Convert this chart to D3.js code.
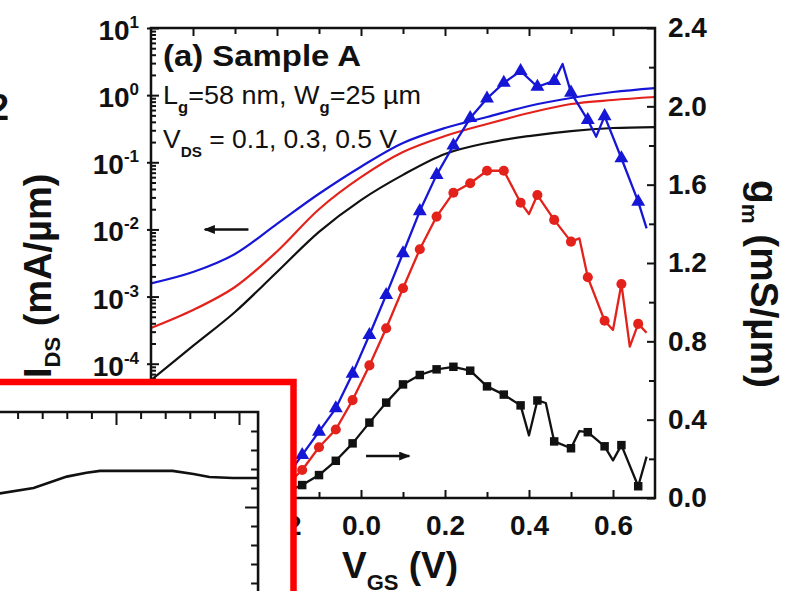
<!DOCTYPE html>
<html>
<head>
<meta charset="utf-8">
<script src="https://cdn.jsdelivr.net/npm/d3@7"></script>
<style>
  body { margin: 0; background: #fff; }
  svg { display: block; }
  text { font-family: "Liberation Sans", Arial, sans-serif; fill: #111; }
</style>
</head>
<body>
<svg id="chart" width="790" height="591"></svg>
<script>
// ---- Transfer characteristics I_DS(V_GS), mA/um, for V_DS = 0.1 / 0.3 / 0.5 V ----
const vgsIV = [-0.5, -0.4, -0.3, -0.2, -0.1, 0.0, 0.1, 0.2, 0.3, 0.4, 0.5, 0.6, 0.7];
const idsVds01 = [5.7e-5, 1.84e-4, 5.9e-4, 2.32e-3, 9.2e-3, 2.74e-2, 6.5e-2, 0.133, 0.194, 0.246, 0.292, 0.324, 0.335];
const idsVds03 = [3.4e-4, 6.3e-4, 1.39e-3, 4.7e-3, 2.0e-2, 6.0e-2, 0.142, 0.246, 0.372, 0.542, 0.738, 0.847, 0.938];
const idsVds05 = [1.57e-3, 2.32e-3, 4.3e-3, 1.21e-2, 3.4e-2, 8.6e-2, 0.194, 0.324, 0.472, 0.689, 0.906, 1.114, 1.276];

// ---- Transconductance g_m (mS/um) ----
const vgsGm01 = [-0.18, -0.14, -0.10, -0.06, -0.02, 0.02, 0.06, 0.10, 0.14, 0.18, 0.22, 0.26, 0.30, 0.34, 0.38, 0.40, 0.42, 0.44, 0.46, 0.50, 0.52, 0.54, 0.58, 0.60, 0.62, 0.66, 0.68];
const gmVds01  = [0.03, 0.066, 0.117, 0.19, 0.279, 0.385, 0.487, 0.58, 0.628, 0.657, 0.67, 0.65, 0.57, 0.528, 0.473, 0.32, 0.498, 0.485, 0.289, 0.254, 0.342, 0.336, 0.264, 0.192, 0.27, 0.06, 0.211];
const vgsGm03 = [-0.18, -0.14, -0.10, -0.06, -0.02, 0.02, 0.06, 0.10, 0.14, 0.18, 0.22, 0.26, 0.30, 0.34, 0.38, 0.40, 0.42, 0.46, 0.50, 0.52, 0.54, 0.58, 0.60, 0.62, 0.64, 0.66, 0.68];
const gmVds03  = [0.06, 0.143, 0.259, 0.35, 0.50, 0.677, 0.867, 1.071, 1.27, 1.437, 1.559, 1.607, 1.671, 1.671, 1.508, 1.45, 1.547, 1.42, 1.309, 1.326, 1.127, 0.905, 0.858, 1.093, 0.773, 0.889, 0.844];
const vgsGm05 = [-0.18, -0.14, -0.10, -0.06, -0.02, 0.02, 0.06, 0.10, 0.14, 0.18, 0.22, 0.26, 0.30, 0.34, 0.38, 0.42, 0.46, 0.48, 0.50, 0.54, 0.56, 0.58, 0.62, 0.66, 0.68];
const gmVds05  = [0.10, 0.22, 0.339, 0.458, 0.635, 0.832, 1.037, 1.25, 1.465, 1.65, 1.80, 1.94, 2.04, 2.12, 2.18, 2.10, 2.13, 2.216, 2.07, 1.93, 1.845, 1.95, 1.735, 1.513, 1.377];

// ---- Axis ticks ----
const xMajor = [-0.4, -0.2, 0.0, 0.2, 0.4, 0.6];
const xMinor = [-0.3, -0.1, 0.1, 0.3, 0.5];
const idsDecades = [1e-6, 1e-5, 1e-4, 1e-3, 1e-2, 1e-1, 1e0, 1e1];
const idsLabelDecades = [1e1, 1e0, 1e-1, 1e-2, 1e-3, 1e-4];
const idsLabelExp = ["1", "0", "-1", "-2", "-3", "-4"];
const gmMajor = [0.0, 0.4, 0.8, 1.2, 1.6, 2.0, 2.4];
const gmMinor = [0.2, 0.6, 1.0, 1.4, 1.8, 2.2];

// ---- Overlaid inset panel (partial view) ----
const insetX = [-0.06, 0.33, 0.60, 0.76, 0.87, 1.46, 1.63, 1.76, 1.95, 2.15];
const insetY = [0.56, 0.60, 0.66, 0.68, 0.69, 0.69, 0.674, 0.658, 0.653, 0.653];
const insetXTicks = [0.2, 0.4, 0.6, 0.8, 1.0, 1.2, 1.4, 1.6, 1.8, 2.0];
const insetYTicks = [0.1, 0.2, 0.3, 0.4, 0.5, 0.6, 0.7, 0.8, 0.9];

const BLUE = "#1616d6", RED = "#e3221c", BLACK = "#111";

const svg = d3.select("#chart");
const L = 151, R = 655, T = 28, B = 498;

const x = d3.scaleLinear().domain([-0.5, 0.7]).range([L, R]);
const yI = d3.scaleLog().domain([1e-6, 1e1]).range([B, T]);
const yG = d3.scaleLinear().domain([0, 2.4]).range([B, T]);

const defs = svg.append("defs");
defs.append("clipPath").attr("id", "plotClip")
  .append("rect").attr("x", L).attr("y", T).attr("width", R - L).attr("height", B - T);
const plot = svg.append("g");

// I-V curves (left axis)
const ivLine = d3.line().x(d => x(d[0])).y(d => yI(d[1])).curve(d3.curveCatmullRom.alpha(0.5));
const ivSeries = [[idsVds01, BLACK], [idsVds03, RED], [idsVds05, BLUE]];
const curves = plot.append("g").attr("clip-path", "url(#plotClip)");
ivSeries.forEach(([vals, col]) => {
  curves.append("path").datum(vgsIV.map((v, i) => [v, vals[i]]))
    .attr("d", ivLine).attr("fill", "none").attr("stroke", col).attr("stroke-width", 2.2);
});

// g_m curves (right axis) with markers every 0.04 V
const gmLine = d3.line().x(d => x(d[0])).y(d => yG(d[1]));
const gmSeries = [
  { v: vgsGm01, g: gmVds01, col: BLACK, shape: d3.symbolSquare, size: 72 },
  { v: vgsGm03, g: gmVds03, col: RED, shape: d3.symbolCircle, size: 80 },
  { v: vgsGm05, g: gmVds05, col: BLUE, shape: d3.symbolTriangle, size: 84 }
];
const onMarkerGrid = v => v > -0.15 && Math.abs((v + 0.14) / 0.04 - Math.round((v + 0.14) / 0.04)) < 1e-6;
gmSeries.forEach(s => {
  const pts = s.v.map((v, i) => [v, s.g[i]]);
  curves.append("path").datum(pts).attr("d", gmLine)
    .attr("fill", "none").attr("stroke", s.col).attr("stroke-width", 2.3).attr("stroke-linejoin", "round");
  curves.selectAll(null).data(pts.filter(p => onMarkerGrid(p[0]))).enter()
    .append("path")
    .attr("d", d3.symbol().type(s.shape).size(s.size))
    .attr("transform", d => `translate(${x(d[0])},${yG(d[1])})`)
    .attr("fill", s.col);
});

// Frame
plot.append("rect").attr("x", L).attr("y", T).attr("width", R - L).attr("height", B - T)
  .attr("fill", "none").attr("stroke", BLACK).attr("stroke-width", 2.5);

function styleAxis(g) {
  g.select(".domain").remove();
  g.selectAll(".tick line").attr("stroke", BLACK).attr("stroke-width", 2);
}

// Bottom axis
plot.append("g").attr("transform", `translate(0,${B})`)
  .call(d3.axisBottom(x).tickValues(xMajor).tickSizeInner(-8).tickSizeOuter(0).tickPadding(17)
    .tickFormat(d => d3.format(".1f")(d).replace("\u2212", "-")))
  .call(styleAxis)
  .selectAll("text").attr("font-size", 28).attr("font-weight", "bold").attr("fill", "#111");
plot.append("g").attr("transform", `translate(0,${B})`)
  .call(d3.axisBottom(x).tickValues(xMinor).tickSizeInner(-6).tickSizeOuter(0).tickFormat(""))
  .call(styleAxis);
// Top axis
plot.append("g").attr("transform", `translate(0,${T})`)
  .call(d3.axisTop(x).tickValues(xMajor).tickSizeInner(-8).tickSizeOuter(0).tickFormat(""))
  .call(styleAxis);
plot.append("g").attr("transform", `translate(0,${T})`)
  .call(d3.axisTop(x).tickValues(xMinor).tickSizeInner(-6).tickSizeOuter(0).tickFormat(""))
  .call(styleAxis);

// Left log axis: decades cross the spine, minor ticks inside
plot.append("g").attr("transform", `translate(${L - 4},0)`)
  .call(d3.axisRight(yI).tickValues(idsDecades).tickSizeInner(12).tickSizeOuter(0).tickFormat(""))
  .call(styleAxis);
const minorLog = [];
idsDecades.slice(0, -1).forEach(d => { for (let k = 2; k <= 9; k++) minorLog.push(d * k); });
plot.append("g").attr("transform", `translate(${L},0)`)
  .call(d3.axisRight(yI).tickValues(minorLog).tickSizeInner(5).tickSizeOuter(0).tickFormat(""))
  .call(styleAxis);
// Decade labels
idsLabelDecades.forEach((d, i) => {
  const t = plot.append("text").attr("x", 139).attr("y", yI(d) + 12)
    .attr("text-anchor", "end").attr("font-weight", "bold").attr("font-size", 28);
  t.append("tspan").text("10");
  t.append("tspan").attr("dy", -12).attr("font-size", 17).text(idsLabelExp[i]);
});

// Right axis (g_m)
plot.append("g").attr("transform", `translate(${R},0)`)
  .call(d3.axisRight(yG).tickValues(gmMajor).tickSizeInner(-8).tickSizeOuter(0).tickPadding(13)
    .tickFormat(d3.format(".1f")))
  .call(styleAxis)
  .selectAll("text").attr("font-size", 28).attr("font-weight", "bold").attr("fill", "#111");
plot.append("g").attr("transform", `translate(${R},0)`)
  .call(d3.axisRight(yG).tickValues(gmMinor).tickSizeInner(-6).tickSizeOuter(0).tickFormat(""))
  .call(styleAxis);

// Axis titles
const yTitle = plot.append("text").attr("transform", "translate(51,378) rotate(-90)")
  .attr("font-weight", "bold").attr("font-size", 38);
yTitle.append("tspan").text("I");
yTitle.append("tspan").attr("dy", 9).attr("font-size", 22).text("DS");
yTitle.append("tspan").attr("dy", -9).text(" (mA/\u00b5m)");

const gTitle = plot.append("text").attr("transform", "translate(751,180) rotate(90)")
  .attr("font-weight", "bold").attr("font-size", 38)
  .attr("textLength", 208).attr("lengthAdjust", "spacingAndGlyphs");
gTitle.append("tspan").text("g");
gTitle.append("tspan").attr("dy", 9).attr("font-size", 22).text("m");
gTitle.append("tspan").attr("dy", -9).text(" (mS/\u00b5m)");

const xTitle = plot.append("text").attr("x", 342).attr("y", 578)
  .attr("font-weight", "bold").attr("font-size", 37);
xTitle.append("tspan").text("V");
xTitle.append("tspan").attr("dy", 12).attr("font-size", 22).text("GS");
xTitle.append("tspan").attr("dy", -12).text(" (V)");

// Annotations inside the plot
plot.append("text").attr("x", 163).attr("y", 66).attr("font-weight", "bold").attr("font-size", 30)
  .attr("textLength", 198).attr("lengthAdjust", "spacingAndGlyphs")
  .text("(a) Sample A");
const l2 = plot.append("text").attr("x", 163).attr("y", 104).attr("font-size", 26)
  .attr("textLength", 258).attr("lengthAdjust", "spacingAndGlyphs");
l2.append("tspan").text("L");
l2.append("tspan").attr("dy", 9).attr("font-size", 16).attr("font-weight", "bold").text("g");
l2.append("tspan").attr("dy", -9).text("=58 nm, W");
l2.append("tspan").attr("dy", 9).attr("font-size", 16).attr("font-weight", "bold").text("g");
l2.append("tspan").attr("dy", -9).text("=25 \u00b5m");
const l3 = plot.append("text").attr("x", 163).attr("y", 148).attr("font-size", 26)
  .attr("textLength", 234).attr("lengthAdjust", "spacingAndGlyphs");
l3.append("tspan").text("V");
l3.append("tspan").attr("dy", 9).attr("font-size", 15).attr("font-weight", "bold").text("DS");
l3.append("tspan").attr("dy", -9).text(" = 0.1, 0.3, 0.5 V");

// Arrows pointing to the axis each curve family belongs to
defs.append("marker").attr("id", "head").attr("viewBox", "0 0 10 8").attr("refX", 9).attr("refY", 4)
  .attr("markerWidth", 13).attr("markerHeight", 9).attr("markerUnits", "userSpaceOnUse").attr("orient", "auto")
  .append("path").attr("d", "M0,0 L10,4 L0,8 Z").attr("fill", BLACK);
const arrowIds = { from: [-0.268, 1e-2], to: [-0.372, 1e-2] };
const arrowGm = { from: [0.012, 0.214], to: [0.115, 0.214] };
plot.append("line").attr("x1", x(arrowIds.from[0])).attr("y1", yI(arrowIds.from[1]))
  .attr("x2", x(arrowIds.to[0])).attr("y2", yI(arrowIds.to[1]))
  .attr("stroke", BLACK).attr("stroke-width", 2.5).attr("marker-end", "url(#head)");
plot.append("line").attr("x1", x(arrowGm.from[0])).attr("y1", yG(arrowGm.from[1]))
  .attr("x2", x(arrowGm.to[0])).attr("y2", yG(arrowGm.to[1]))
  .attr("stroke", BLACK).attr("stroke-width", 2.5).attr("marker-end", "url(#head)");

// Fragment of a neighbouring label at the left edge
svg.append("text").attr("x", -11).attr("y", 120).attr("font-weight", "bold").attr("font-size", 36).text("2");

// ---- Inset panel framed in red ----
const inset = svg.append("g");
const boxL = -20, boxT = 382, boxR = 293.5, boxB = 620;
defs.append("clipPath").attr("id", "insetClip").append("rect")
  .attr("x", boxL).attr("y", boxT + 3).attr("width", boxR - boxL - 3).attr("height", boxB - boxT);
inset.append("rect").attr("x", boxL).attr("y", boxT).attr("width", boxR - boxL).attr("height", boxB - boxT)
  .attr("fill", "#fff");
const xi = d3.scaleLinear().domain([1.0, 2.0]).range([116, 239]);
const yi = d3.scaleLinear().domain([0.0, 1.0]).range([602, 412]);
const ig = inset.append("g").attr("clip-path", "url(#insetClip)");
const xiMax = 2.155;
// inset frame: top and right spines
ig.append("path").attr("d", `M${xi(-0.5)},${yi(1)} H${xi(xiMax)} V${yi(-0.2)}`)
  .attr("fill", "none").attr("stroke", BLACK).attr("stroke-width", 2.6);
ig.append("g").attr("transform", `translate(0,${yi(1)})`)
  .call(d3.axisTop(xi).tickValues(insetXTicks).tickSizeInner(-7).tickSizeOuter(0).tickFormat(""))
  .call(styleAxis)
  .selectAll(".tick line").attr("y2", d => Math.abs(d - Math.round(d)) < 1e-6 ? 13 : 7);
ig.append("g").attr("transform", `translate(${xi(xiMax)},0)`)
  .call(d3.axisRight(yi).tickValues(insetYTicks).tickSizeInner(-7).tickSizeOuter(0).tickFormat(""))
  .call(styleAxis)
  .selectAll(".tick line").attr("x2", d => Math.abs(d - 0.5) < 1e-6 ? -13 : -7);
ig.append("path").datum(insetX.map((v, i) => [v, insetY[i]]))
  .attr("d", d3.line().x(d => xi(d[0])).y(d => yi(d[1])))
  .attr("fill", "none").attr("stroke", BLACK).attr("stroke-width", 2.6);
inset.append("rect").attr("x", boxL).attr("y", boxT).attr("width", boxR - boxL).attr("height", boxB - boxT)
  .attr("fill", "none").attr("stroke", "#ff0000").attr("stroke-width", 6.5);
</script>
</body>
</html>
